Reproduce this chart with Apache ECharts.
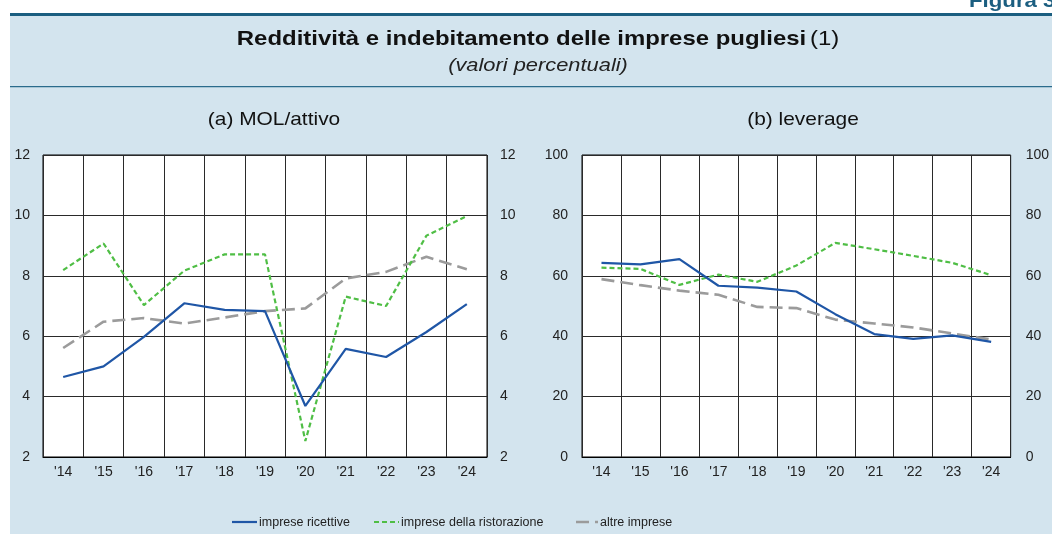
<!DOCTYPE html>
<html><head><meta charset="utf-8">
<script src="https://cdn.jsdelivr.net/npm/echarts@6/dist/echarts.min.js"></script>
<style>html,body{margin:0;padding:0;background:#fff}#c{width:1052px;height:534px}</style>
</head><body><div id="c"></div>
<script>
const categories = ["'14","'15","'16","'17","'18","'19","'20","'21","'22","'23","'24"];
const seriesNames = ["imprese ricettive","imprese della ristorazione","altre imprese"];
// (a) MOL/attivo
const molRicettive = [4.65,5.0,5.98,7.09,6.87,6.83,3.69,5.58,5.31,6.14,7.06];
const molRistorazione = [8.19,9.07,7.03,8.17,8.71,8.71,2.53,7.31,7.0,9.33,9.98];
const molAltre = [5.61,6.48,6.6,6.42,6.62,6.83,6.92,7.91,8.13,8.63,8.22];
// (b) leverage
const levRicettive = [64.3,63.8,65.5,56.7,56.1,54.8,47.3,40.7,39.1,40.3,38.1];
const levRistorazione = [62.7,62.3,57.0,60.4,58.0,63.4,70.9,68.8,66.6,64.3,60.2];
const levAltre = [58.9,56.9,55.1,53.7,49.7,49.3,45.5,44.2,42.9,40.9,38.9];
const axisA = {min:2,max:12,interval:2};
const axisB = {min:0,max:100,interval:20};

const FONT = '"Liberation Sans", Arial, sans-serif';
const colors = ['#1f56a6','#4fbe45','#9b9b9b'];
const styles = [
  {width:2.2,type:'solid'},
  {width:2.2,type:[5,3]},
  {width:2.6,type:[13,6]}
];
const chart = echarts.init(document.getElementById('c'));
function xAx(gi){
  return {type:'category',gridIndex:gi,data:categories,boundaryGap:true,
    axisLine:{lineStyle:{color:'#000',width:1}},axisTick:{show:false},
    axisLabel:{color:'#222',fontSize:14,fontFamily:FONT,margin:8},
    splitLine:{show:true,lineStyle:{color:'#2a2a2a',width:1}}};
}
function yAx(gi,ax,pos,margin,grid){
  return {type:'value',gridIndex:gi,position:pos,min:ax.min,max:ax.max,interval:ax.interval,
    axisLine:{show:false},axisTick:{show:false},
    axisLabel:{color:'#222',fontSize:14,fontFamily:FONT,margin:margin},
    splitLine:{show:grid,lineStyle:{color:'#2a2a2a',width:1}}};
}
function mk(name,data,i,xi,yi){
  return {name:name,type:'line',xAxisIndex:xi,yAxisIndex:yi,data:data,symbol:'none',
    lineStyle:{color:colors[i],width:styles[i].width,type:styles[i].type},
    itemStyle:{color:colors[i]},z:3+(2-i)};
}
// legend (drawn as graphic entries built from seriesNames/colors/styles)
const legendIconX = [232,374,576];
const legendIconW = [25,25,22];
const legendY = 522;
const legendGraphics = [];
seriesNames.forEach((n,i)=>{
  legendGraphics.push({type:'line',shape:{x1:legendIconX[i],y1:legendY,x2:legendIconX[i]+legendIconW[i],y2:legendY},
    style:{stroke:colors[i],lineWidth:styles[i].width,lineDash:styles[i].type==='solid'?null:styles[i].type}});
  legendGraphics.push({type:'text',x:legendIconX[i]+legendIconW[i]+2,y:legendY+0.5,
    style:{text:n,font:'12.5px '+FONT,fill:'#222',textVerticalAlign:'middle'}});
});
chart.setOption({
  animation:false,
  backgroundColor:'#fff',
  graphic:[
    {type:'rect',shape:{x:10,y:15,width:1042,height:519},style:{fill:'#d3e4ee'},z:-10},
    {type:'rect',shape:{x:10,y:13,width:1042,height:3},style:{fill:'#1b5e80'},z:-9},
    {type:'rect',shape:{x:10,y:86,width:1042,height:1.2},style:{fill:'#2a6b8c'},z:-9},
    {type:'text',x:969,y:1.5,scaleX:1.17,style:{text:'Figura 3',font:'bold 19px '+FONT,fill:'#1b5e80',textVerticalAlign:'middle'}},
    {type:'text',x:538,y:39,scaleX:1.14,style:{text:'{b|Redditività e indebitamento delle imprese pugliesi} {n|(1)}',
      textAlign:'center',textVerticalAlign:'middle',rich:{b:{font:'bold 21px '+FONT,fill:'#111'},n:{font:'21px '+FONT,fill:'#111'}}}},
    {type:'text',x:538,y:66,scaleX:1.15,style:{text:'(valori percentuali)',textAlign:'center',textVerticalAlign:'middle',font:'italic 19px '+FONT,fill:'#222'}},
    {type:'text',x:274,y:120,scaleX:1.1,style:{text:'(a) MOL/attivo',textAlign:'center',textVerticalAlign:'middle',font:'19px '+FONT,fill:'#111'}},
    {type:'text',x:803,y:120,scaleX:1.1,style:{text:'(b) leverage',textAlign:'center',textVerticalAlign:'middle',font:'19px '+FONT,fill:'#111'}}
  ].concat(legendGraphics),
  grid:[
    {left:43,top:155,width:444,height:302,show:true,backgroundColor:'#fff',borderColor:'#000',borderWidth:1},
    {left:582,top:155,width:431,height:302,show:true,backgroundColor:'#fff',borderColor:'#000',borderWidth:1}
  ],
  xAxis:[xAx(0),xAx(1)],
  yAxis:[yAx(0,axisA,'left',13,true),yAx(0,axisA,'right',13,false),
         yAx(1,axisB,'left',14,true),yAx(1,axisB,'right',15,false)],
  series:[
    mk(seriesNames[0],molRicettive,0,0,0),
    mk(seriesNames[1],molRistorazione,1,0,0),
    mk(seriesNames[2],molAltre,2,0,0),
    mk(seriesNames[0],levRicettive,0,1,2),
    mk(seriesNames[1],levRistorazione,1,1,2),
    mk(seriesNames[2],levAltre,2,1,2)
  ]
});
</script></body></html>
